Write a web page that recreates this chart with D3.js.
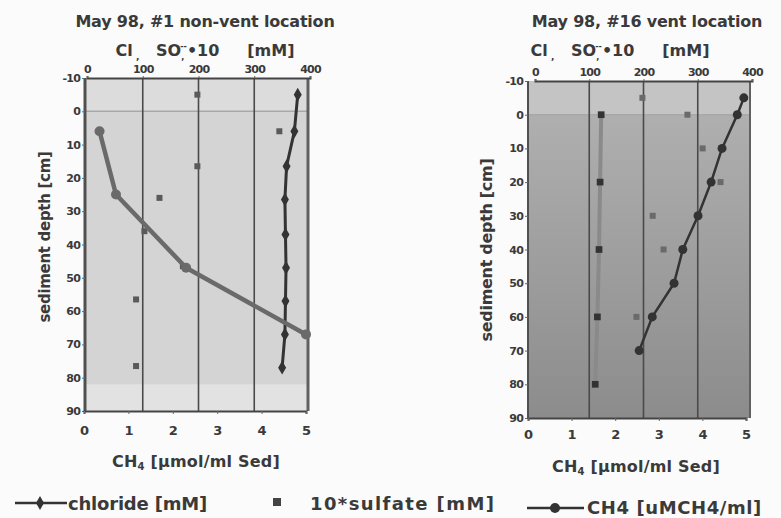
<!DOCTYPE html>
<html>
<head>
<meta charset="utf-8">
<script src="https://cdn.jsdelivr.net/npm/d3@7"></script>
<style>
  body { margin: 0; background: #fbfbfb; }
  text { font-family: "DejaVu Sans", Arial, sans-serif; font-weight: bold; fill: #3a3a3a; }
</style>
</head>
<body>
<svg id="chart" width="781" height="518"></svg>
<script>
// depth ticks and axis tick values
const depthTicks = [-10, 0, 10, 20, 30, 40, 50, 60, 70, 80, 90];
const mmTicks = [0, 100, 200, 300, 400];
const ch4Ticks = [0, 1, 2, 3, 4, 5];

// #1 non-vent location
const nvChlorideDepth = [-5, 6, 16.5, 26.5, 37, 47, 57, 67, 77];
const nvChloride = [378, 372, 358, 355, 356, 357, 356, 355, 350];
const nvSulfateDepth = [-5, 6, 16.5, 26, 36, 46.5, 56.5, 76.5];
const nvSulfate = [198, 345, 198, 130, 103, 172, 88, 88];
const nvCh4Depth = [6, 25, 47, 67];
const nvCh4 = [0.35, 0.72, 2.3, 5.0];

// #16 vent location
const vChlorideDepth = [0, 20, 40, 60, 80];
const vChloride = [122, 120, 118, 115, 111];
const vSulfateDepth = [-5, 0, 10, 20, 30, 40, 60];
const vSulfate = [198, 281, 309, 342, 217, 237, 187];
const vCh4Depth = [-5, 0, 10, 20, 30, 40, 50, 60, 70];
const vCh4 = [4.95, 4.8, 4.45, 4.2, 3.9, 3.55, 3.35, 2.85, 2.55];

const svg = d3.select("#chart");
const defs = svg.append("defs");

const grad = defs.append("linearGradient").attr("id", "ventBg")
  .attr("x1", 0).attr("y1", 0).attr("x2", 0).attr("y2", 1);
grad.append("stop").attr("offset", "0%").attr("stop-color", "#b3b3b3");
grad.append("stop").attr("offset", "100%").attr("stop-color", "#8c8c8c");

const fmt = d => String(d);

function drawPanel(p) {
  const g = svg.append("g");
  const y = d3.scaleLinear().domain([-10, 90]).range([p.top, p.bottom]);
  const xTop = d3.scaleLinear().domain([0, 400]).range(p.topRange);
  const xBot = d3.scaleLinear().domain([0, 5]).range(p.botRange);

  // background bands
  g.append("rect").attr("x", p.left).attr("y", p.top)
    .attr("width", p.right - p.left).attr("height", p.bottom - p.top)
    .attr("fill", p.bg);
  g.append("rect").attr("x", p.left).attr("y", y(-10))
    .attr("width", p.right - p.left).attr("height", y(0) - y(-10))
    .attr("fill", p.band);
  if (p.lowBand) {
    g.append("rect").attr("x", p.left).attr("y", y(82))
      .attr("width", p.right - p.left).attr("height", y(90) - y(82))
      .attr("fill", p.lowBand);
  }
  g.append("line").attr("x1", p.left).attr("x2", p.right)
    .attr("y1", y(0)).attr("y2", y(0)).attr("stroke", "#a8a8a8").attr("stroke-width", 1.5);

  // vertical grid from the top scale
  g.selectAll(".grid").data([100, 200, 300]).enter().append("line")
    .attr("x1", d => xTop(d)).attr("x2", d => xTop(d))
    .attr("y1", p.top).attr("y2", p.bottom)
    .attr("stroke", "#4a4a4a").attr("stroke-width", 1.6);

  // frame
  g.append("line").attr("x1", p.left).attr("x2", p.left).attr("y1", p.top).attr("y2", p.bottom)
    .attr("stroke", "#505050").attr("stroke-width", p.frameW);
  g.append("line").attr("x1", p.right).attr("x2", p.right).attr("y1", p.top).attr("y2", p.bottom)
    .attr("stroke", "#606060").attr("stroke-width", p.frameW);

  // axes
  const top = g.append("g").attr("transform", `translate(0,${p.top})`)
    .call(d3.axisTop(xTop).tickValues(mmTicks).tickFormat(fmt).tickSize(2).tickPadding(3));
  const left = g.append("g").attr("transform", `translate(${p.left},0)`)
    .call(d3.axisLeft(y).tickValues(depthTicks).tickFormat(fmt).tickSize(3).tickPadding(2));
  const bot = g.append("g").attr("transform", `translate(0,${p.bottom})`)
    .call(d3.axisBottom(xBot).tickValues(ch4Ticks).tickFormat(fmt).tickSize(3).tickPadding(p.botPad));
  [top, left, bot].forEach(a => {
    a.select(".domain").attr("stroke", "#444").attr("stroke-width", 2);
    a.selectAll(".tick line").attr("stroke", "#666");
    a.selectAll("text").style("font-size", "11px").style("letter-spacing", "-0.8px").attr("fill", "#3a3a3a");
  });
  bot.selectAll("text").style("font-size", "13px").style("letter-spacing", "0px");
  left.select(".domain").remove();

  // chloride
  const clLine = d3.line().x(d => xTop(d[1])).y(d => y(d[0]));
  const cl = p.clDepth.map((d, i) => [d, p.cl[i]]);
  g.append("path").attr("d", clLine(cl)).attr("fill", "none")
    .attr("stroke", p.clColor).attr("stroke-width", p.clWidth);
  g.selectAll(".cl").data(cl).enter().append("path")
    .attr("transform", d => `translate(${xTop(d[1])},${y(d[0])})`)
    .attr("d", d3.symbol(p.clSymbol, p.clSize))
    .attr("fill", "#333");

  // sulfate x10
  const so = p.soDepth.map((d, i) => [d, p.so[i]]);
  g.selectAll(".so").data(so).enter().append("rect")
    .attr("x", d => xTop(d[1]) - p.soSize / 2).attr("y", d => y(d[0]) - p.soSize / 2)
    .attr("width", p.soSize).attr("height", p.soSize)
    .attr("fill", p.soColor);

  // methane
  const ch = p.chDepth.map((d, i) => [d, p.ch[i]]);
  const chLine = d3.line().x(d => xBot(d[1])).y(d => y(d[0]));
  g.append("path").attr("d", chLine(ch)).attr("fill", "none")
    .attr("stroke", p.chColor).attr("stroke-width", p.chWidth).attr("stroke-linejoin", "round");
  g.selectAll(".ch").data(ch).enter().append("circle")
    .attr("cx", d => xBot(d[1])).attr("cy", d => y(d[0])).attr("r", p.chR)
    .attr("fill", p.chColor);

  // titles
  g.append("text").attr("x", p.titleX).attr("y", 27).attr("text-anchor", "middle")
    .style("font-size", "16px").style("letter-spacing", "-0.2px").text(p.title);
  const sub = g.append("text").attr("x", p.subX).attr("y", 56).attr("text-anchor", "middle")
    .style("font-size", "16px").attr("xml:space", "preserve");
  sub.append("tspan").text("Cl");
  sub.append("tspan").attr("dy", 4).style("font-size", "9px").text(" ,");
  sub.append("tspan").attr("dy", -4).text("   SO");
  sub.append("tspan").attr("dy", 4).style("font-size", "8px").text(",");
  sub.append("tspan").attr("dy", -11).attr("dx", -4).style("font-size", "8px").text("--");
  sub.append("tspan").attr("dy", 7).text("•10     [mM]");

  g.append("text").attr("transform", `translate(${p.yTitleX},${p.yTitleY}) rotate(-90)`)
    .attr("text-anchor", "middle").style("font-size", p.yTitleSize).style("letter-spacing", "-0.3px")
    .text("sediment depth [cm]");

  const xt = g.append("text").attr("x", p.xTitleX).attr("y", p.xTitleY).attr("text-anchor", "middle")
    .style("font-size", "16px").style("letter-spacing", "0.2px");
  xt.append("tspan").text("CH");
  xt.append("tspan").attr("dy", 3).style("font-size", "10px").text("4");
  xt.append("tspan").attr("dy", -3).text(" [µmol/ml Sed]");
}

drawPanel({
  left: 85, right: 308, top: 78, bottom: 411,
  topRange: [87, 310], botRange: [84, 306], botPad: 12,
  bg: "#d4d4d4", band: "#dcdcdc", lowBand: "#e2e2e2", frameW: 3,
  clDepth: nvChlorideDepth, cl: nvChloride, clColor: "#333", clWidth: 3,
  clSymbol: d3.symbolDiamond, clSize: 55,
  soDepth: nvSulfateDepth, so: nvSulfate, soSize: 6, soColor: "#5a5a5a",
  chDepth: nvCh4Depth, ch: nvCh4, chColor: "#6a6a6a", chWidth: 4.5, chR: 5,
  title: "May 98, #1 non-vent location", titleX: 205, subX: 205,
  yTitleX: 50, yTitleY: 237, yTitleSize: "15px", xTitleX: 196, xTitleY: 467
});

drawPanel({
  left: 528, right: 750, top: 81, bottom: 418,
  topRange: [535, 752], botRange: [528, 746], botPad: 9,
  bg: "url(#ventBg)", band: "#c4c4c4", lowBand: null, frameW: 2,
  clDepth: vChlorideDepth, cl: vChloride, clColor: "#8a8a8a", clWidth: 4,
  clSymbol: d3.symbolSquare, clSize: 45,
  soDepth: vSulfateDepth, so: vSulfate, soSize: 6, soColor: "#6a6a6a",
  chDepth: vCh4Depth, ch: vCh4, chColor: "#333", chWidth: 2.5, chR: 4.5,
  title: "May 98, #16 vent location", titleX: 647, subX: 620,
  yTitleX: 492, yTitleY: 250, yTitleSize: "16px", xTitleX: 636, xTitleY: 472
});

// legend
const leg = svg.append("g");
leg.append("line").attr("x1", 15).attr("x2", 67).attr("y1", 503).attr("y2", 503)
  .attr("stroke", "#333").attr("stroke-width", 2.5);
leg.append("path").attr("transform", "translate(40,503)")
  .attr("d", d3.symbol(d3.symbolDiamond, 55)).attr("fill", "#333");
leg.append("text").attr("x", 68).attr("y", 510).style("font-size", "18px").style("letter-spacing", "-0.2px")
  .text("chloride [mM]");
leg.append("rect").attr("x", 273).attr("y", 498).attr("width", 8).attr("height", 8).attr("fill", "#444");
leg.append("text").attr("x", 310).attr("y", 510).style("font-size", "18px").style("letter-spacing", "1.4px")
  .text("10*sulfate [mM]");
leg.append("line").attr("x1", 527).attr("x2", 584).attr("y1", 508).attr("y2", 508)
  .attr("stroke", "#333").attr("stroke-width", 2.5);
leg.append("circle").attr("cx", 555).attr("cy", 508).attr("r", 5).attr("fill", "#333");
leg.append("text").attr("x", 587).attr("y", 514).style("font-size", "18px").style("letter-spacing", "0.6px")
  .text("CH4 [uMCH4/ml]");
</script>
</body>
</html>
